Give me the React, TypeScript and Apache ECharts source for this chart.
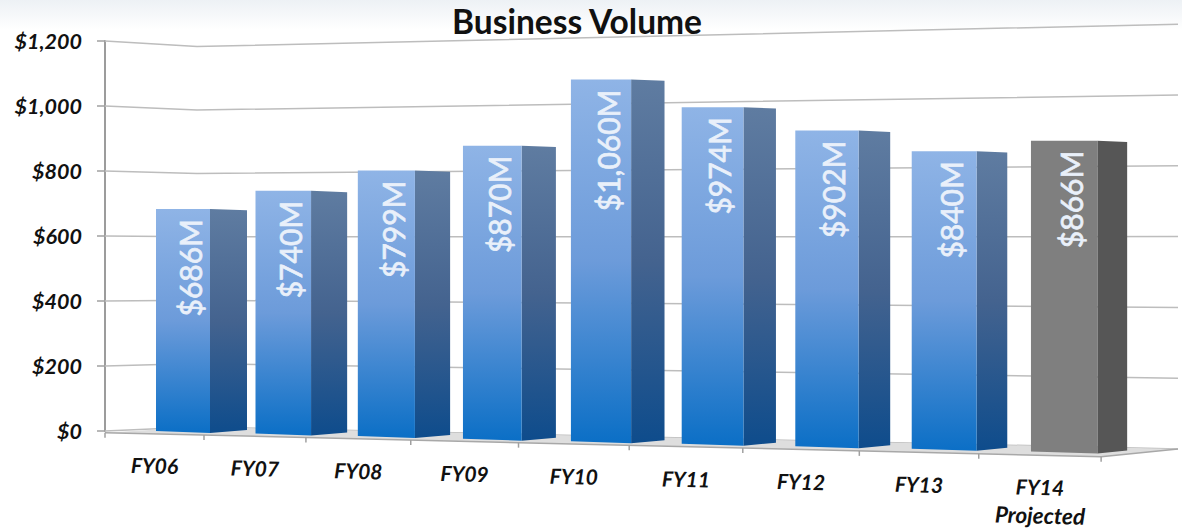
import React, { useEffect, useRef } from "react";
import * as echarts from "echarts";

const categories = ["FY06", "FY07", "FY08", "FY09", "FY10", "FY11", "FY12", "FY13", "FY14\nProjected"];
const volumes = [686, 740, 799, 870, 1060, 974, 902, 840, 866];
const valueLabels = ["$686M", "$740M", "$799M", "$870M", "$1,060M", "$974M", "$902M", "$840M", "$866M"];
const yTicks = [0, 200, 400, 600, 800, 1000, 1200];
const projectedFlags = [0, 0, 0, 0, 0, 0, 0, 0, 1];

const FONT = "Lato, 'Open Sans', sans-serif";
const GRID_LEFT = 105;
const GRID_RIGHT = 1178;
const GRID_TOP = 41;
const GRID_BOTTOM_Y = 431;
const AXIS_PX_PER_UNIT = (GRID_BOTTOM_Y - GRID_TOP) / 1200;

// Perspective of the pseudo-3D plot, applied on top of what the axes return.
const barLeft = (u: number) => 156 + 99.5 * u + (2.82 * u * (u - 1)) / 2;
const barWidth = (u: number) => 54 + 1.55 * u;
const sideWidth = (u: number) => 37 - 0.9 * u;
const barBase = (u: number) => 431 + 2.55 * u;
const depthScale = (u: number) => (0.3236 + 0.0044 * u) / AXIS_PX_PER_UNIT;
const tickX = (k: number) => 105 + 99 * k + (2.92 * k * (k - 1)) / 2;
const floorFrontY = (x: number) => 432.7 + ((x - 105) * 24) / 996;

const wallPoints = [
  { x: 105, base: 431, scale: 0.325 },
  { x: 197, base: 427, scale: 0.317 },
  { x: 1178, base: 449, scale: 0.354 },
];

const grad = (top: string, mid: string, bottom: string) =>
  new echarts.graphic.LinearGradient(0, 0, 0, 1, [
    { offset: 0, color: top },
    { offset: 0.5, color: mid },
    { offset: 1, color: bottom },
  ]);

function axisHeight(api: any, v: number) {
  return GRID_BOTTOM_Y - api.coord([0, v])[1];
}

function bandIndex(api: any, i: number) {
  const band = api.size([1, 0])[0];
  return (api.coord([i, 0])[0] - GRID_LEFT) / band - 0.5;
}

function renderWall(_p: any, api: any) {
  const h = axisHeight(api, api.value(0));
  const points = wallPoints.map((w) => [w.x, w.base - (w.scale / AXIS_PX_PER_UNIT) * h]);
  return {
    type: "polyline",
    shape: { points },
    style: { stroke: "#BDBDBD", lineWidth: 1.5, fill: "none" },
  };
}

function renderFloor() {
  const children: any[] = [
    {
      type: "polygon",
      shape: {
        points: [
          [105, 432.7],
          [197, 427],
          [1178, 449],
          [tickX(9), floorFrontY(tickX(9))],
        ],
      },
      style: { fill: "#DEDEDE" },
    },
    {
      type: "polyline",
      shape: {
        points: [
          [105, 432.7],
          [tickX(9), floorFrontY(tickX(9))],
          [1178, 449],
        ],
      },
      style: { stroke: "#A8A8A8", lineWidth: 1.5, fill: "none" },
    },
  ];
  for (let k = 0; k < 10; k++) {
    const x = tickX(k);
    children.push({
      type: "line",
      shape: { x1: x, y1: floorFrontY(x), x2: x, y2: floorFrontY(x) + 5 },
      style: { stroke: "#A0A0A0", lineWidth: 1.5 },
    });
  }
  return { type: "group", children };
}

function renderBar(_p: any, api: any) {
  const i = api.value(0);
  const v = api.value(1);
  const projected = api.value(2) === 1;
  const u = bandIndex(api, i);
  const x0 = barLeft(u);
  const x1 = x0 + barWidth(u);
  const x2 = x1 + sideWidth(u);
  const base = barBase(u);
  const top = base - depthScale(u) * axisHeight(api, v);
  const frontFill = projected ? "#7F7F7F" : grad("#8FB4E6", "#6C9BDA", "#0B6FC6");
  const sideFill = projected ? "#565656" : grad("#5F7CA1", "#44638F", "#0E4C8C");
  return {
    type: "group",
    children: [
      {
        type: "polygon",
        shape: { points: [[x1, top], [x2, top + 1.3], [x2, base - 1], [x1, base + 2]] },
        style: { fill: sideFill },
      },
      {
        type: "polygon",
        shape: { points: [[x0, top], [x1, top], [x1, base + 2], [x0, base]] },
        style: { fill: frontFill },
      },
      {
        type: "text",
        x: (x0 + x1) / 2 + 6.5,
        y: top + 10,
        rotation: Math.PI / 2,
        style: {
          text: valueLabels[i],
          fill: "#E9F0FA",
          stroke: "#E9F0FA",
          lineWidth: 0.7,
          font: `400 30px ${FONT}`,
          align: "right",
          verticalAlign: "middle",
        },
      },
    ],
  };
}

function renderCategory(_p: any, api: any) {
  const i = api.value(0);
  const u = bandIndex(api, i);
  const cx = (tickX(u) + tickX(u + 1)) / 2;
  const lines = categories[i].split("\n");
  return {
    type: "group",
    children: lines.map((line: string, n: number) => ({
      type: "text",
      x: cx,
      y: 465 + 2.7 * u + n * 28.5,
      rotation: -0.025,
      style: {
        text: line,
        fill: "#111111",
        font: `italic 700 ${n === 0 ? 21 : 22.5}px ${FONT}`,
        align: "center",
        verticalAlign: "middle",
      },
    })),
  };
}

export default function App() {
  const ref = useRef<HTMLDivElement>(null);
  useEffect(() => {
    document.body.style.margin = "0";
    const chart = echarts.init(ref.current!, null, { renderer: "svg" });
    chart.setOption({
      animation: false,
      backgroundColor: "#FFFFFF",
      title: {
        text: "Business Volume",
        left: 452,
        top: 4,
        padding: 0,
        textStyle: { fontFamily: FONT, fontWeight: 700, fontSize: 33.5, color: "#111111" },
      },
      graphic: [
        {
          type: "rect",
          silent: true,
          z: -1,
          shape: { x: 0, y: 0, width: 1182, height: 30 },
          style: {
            fill: new echarts.graphic.LinearGradient(0, 0, 0, 1, [
              { offset: 0, color: "#EDF1F5" },
              { offset: 1, color: "#FFFFFF" },
            ]),
          },
        },
      ],
      grid: {
        left: GRID_LEFT,
        right: 1182 - GRID_RIGHT,
        top: GRID_TOP,
        bottom: 530 - GRID_BOTTOM_Y,
        containLabel: false,
      },
      xAxis: {
        type: "category",
        data: categories,
        axisLine: { show: false },
        axisTick: { show: false },
        axisLabel: { show: false },
      },
      yAxis: {
        type: "value",
        min: 0,
        max: 1200,
        interval: 200,
        splitLine: { show: false },
        axisLine: { show: true, lineStyle: { color: "#9C9C9C", width: 2 } },
        axisTick: { show: true, length: 8, lineStyle: { color: "#A0A0A0", width: 1.5 } },
        axisLabel: {
          margin: 23,
          color: "#111111",
          fontFamily: FONT,
          fontStyle: "italic",
          fontWeight: 700,
          fontSize: 21.5,
          formatter: (v: number) => "$" + v.toLocaleString("en-US"),
        },
      },
      series: [
        {
          type: "custom",
          name: "walls",
          z: 1,
          silent: true,
          data: yTicks.map((t) => [t]),
          encode: { y: 0 },
          renderItem: renderWall,
        },
        {
          type: "custom",
          name: "floor",
          z: 2,
          silent: true,
          data: [[0, 0]],
          renderItem: renderFloor,
        },
        {
          type: "custom",
          name: "Business Volume",
          z: 3,
          silent: true,
          data: volumes.map((v, i) => [i, v, projectedFlags[i]]),
          encode: { x: 0, y: 1 },
          renderItem: renderBar,
        },
        {
          type: "custom",
          name: "categories",
          z: 4,
          silent: true,
          data: categories.map((_, i) => [i, 0]),
          encode: { x: 0, y: 1 },
          renderItem: renderCategory,
        },
      ],
    });
    return () => chart.dispose();
  }, []);
  return (
    <div
      ref={ref}
      style={{ position: "absolute", left: 0, top: 0, width: 1182, height: 530 }}
    />
  );
}
